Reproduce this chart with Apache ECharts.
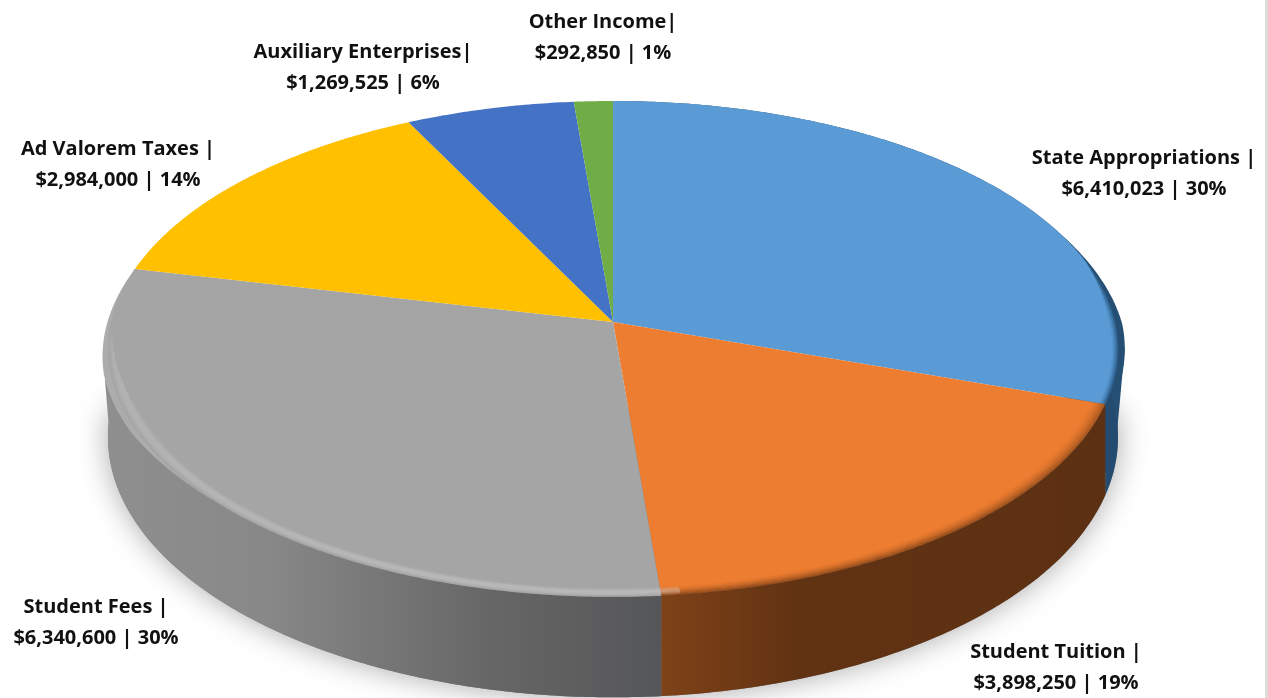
<!DOCTYPE html>
<html><head><meta charset="utf-8">
<style>html,body{margin:0;padding:0;background:#fff;overflow:hidden}#c{width:1268px;height:698px}</style>
<script src="https://cdn.jsdelivr.net/npm/echarts@6/dist/echarts.min.js"></script>
</head><body><div id="c"></div>
<script>
// ---- data ----
var categories = ['State Appropriations |','Student Tuition |','Student Fees |','Ad Valorem Taxes |','Auxiliary Enterprises|','Other Income|'];
var values = [6410023,3898250,6340600,2984000,1269525,292850];
var amountLabels = ['$6,410,023','$3,898,250','$6,340,600','$2,984,000','$1,269,525','$292,850'];
var percentLabels = ['30%','19%','30%','14%','6%','1%'];

// ---- layout and style ----
var topColors = ['#5b9bd5','#ed7d31','#a5a5a5','#ffc000','#4472c4','#70ad47'];
var sideStops = [
  [[0,'#264f74'],[1,'#234a6e']],
  [[0,'#7f4218'],[0.3,'#623313'],[1,'#5c3012']],
  [[0,'#8f8f8f'],[0.3,'#888888'],[0.7,'#666666'],[1,'#555658']]
];
var sideRanges = [[1080,1125],[660,1108],[100,662]];
var labelPos = [[1144,174],[1056,668],[96,623],[118,165],[363,68],[603,38]];
var PX = 613, TOPY = 322, BOTY = 409, RX = 502, RY_TOP = 245, RY_BOT = 257, K = 0.1086, SHOULDER = 0.0135;

var total = values.reduce(function(a,b){return a+b;},0);
var DEG = Math.PI/180;
function startAngle(i){var s=0;for(var j=0;j<i;j++)s+=values[j];return s/total*Math.PI*2;}
function project(a,scale,cy,ry){
  var d=1+K*Math.cos(a)*scale;
  return [PX+RX*scale*Math.sin(a)/d, cy-ry*scale*Math.cos(a)/d];
}
function arc(a0,a1,scale,cy,ry){
  var n=Math.max(4,Math.ceil((a1-a0)/0.01)),p=[];
  for(var i=0;i<=n;i++)p.push(project(a0+(a1-a0)*i/n,scale,cy,ry));
  return p;
}
function outward(a,f){var q=project(a,1,TOPY,RY_TOP);return [PX+(q[0]-PX)*(1+f),q[1]];}
// thin crescent outside the top face, between its rim and the widest part of the disc
function lip(a0,a1,keepEnd){
  var n=Math.ceil((a1-a0)/0.01),p=[];
  for(var i=0;i<=n;i++){
    var a=a0+(a1-a0)*i/n;
    var f=keepEnd==='right'?SHOULDER*Math.min(1,(a-a0)/(0.55*(a1-a0))):SHOULDER*Math.min(1,(a1-a)/(0.45*(a1-a0)))*Math.min(1,(a-a0)/(0.3*(a1-a0)));
    p.push(outward(a,f));
  }
  return p.concat(arc(a0,a1,0.99,TOPY,RY_TOP).reverse());
}
function filler(aS,aB){
  return [outward(aS,SHOULDER),project(aB,1,BOTY,RY_BOT),project(aB,0.9,BOTY,RY_BOT),project(aS,0.9,TOPY,RY_TOP)];
}
function renderBase(params,api){
  return {type:'polygon',shape:{points:arc(90*DEG,270*DEG,1,BOTY,RY_BOT)},
    style:{fill:'#777',shadowBlur:30,shadowColor:'rgba(0,0,0,0.34)'},silent:true};
}
function renderSide(params,api){
  var i=params.dataIndex; if(i>2) return null;
  var a0=startAngle(i),a1=startAngle(i+1);
  var pts=arc(a0,a1,1,TOPY,RY_TOP).concat(arc(a0,a1,1,BOTY,RY_BOT).reverse());
  var xr=sideRanges[i];
  var stops=sideStops[i].map(function(s){return {offset:s[0],color:s[1]};});
  var fill=new echarts.graphic.LinearGradient(xr[0],0,xr[1],0,stops,true);
  var kids=[];
  if(i===0){
    kids.push({type:'polygon',shape:{points:lip(68*DEG,a1,'right')},silent:true,style:{fill:'#264f74'}});
    kids.push({type:'polygon',shape:{points:filler(96*DEG,104*DEG)},silent:true,style:{fill:'#264f74'}});
  }
  if(i===2){
    kids.push({type:'polygon',shape:{points:filler(257*DEG,256*DEG)},silent:true,style:{fill:'#8f8f8f'}});
  }
  kids.push({type:'polygon',shape:{points:pts},silent:true,style:{fill:fill}});
  if(i===2){
    kids.push({type:'polygon',shape:{points:lip(228*DEG,a1,'left')},silent:true,style:{fill:'#acacac'}});
  }
  return {type:'group',children:kids};
}
// soft band along the rim; taper lets inner lines start later so that the band thins out
function rimBand(a0,a1,color,from,to,alphaFn,taper0,taper1,width){
  var kids=[],N=12;
  for(var j=0;j<N;j++){
    var t=j/(N-1),s=from+(to-from)*t;
    var b0=a0+(taper0||0)*t,b1=a1-(taper1||0)*t;
    kids.push({type:'polyline',shape:{points:arc(b0,b1,s,TOPY,RY_TOP)},silent:true,
      style:{fill:null,stroke:color,lineWidth:width||1.4,opacity:alphaFn(t)}});
  }
  return kids;
}
function renderTop(params,api){
  var i=params.dataIndex,a0=startAngle(i),a1=startAngle(i+1);
  var pts=[project(0,0,TOPY,RY_TOP)].concat(arc(a0,a1,1,TOPY,RY_TOP));
  var kids=[{type:'polygon',shape:{points:pts},silent:true,style:{fill:topColors[i]}}];
  var soft=function(t){return 0.55*(1-t)*(1-t);};
  if(i===0){ kids=kids.concat(rimBand(76*DEG,a1,'#24527a',1,0.986,soft,15*DEG,0)); }
  if(i===1){ kids=kids.concat(rimBand(a0,a1,'#5e3112',1,0.968,soft)); }
  if(i===2){
    var glow=function(t){return 0.18*Math.sin(Math.PI*t);};
    kids=kids.concat(rimBand(a0-2*DEG,272*DEG,'#d8d8d8',0.998,0.972,glow,0,25*DEG,2));
  }
  return {type:'group',children:kids};
}
function renderLabel(params,api){
  var i=params.dataIndex;
  return {type:'text',silent:true,style:{
    text:categories[i]+'\n'+amountLabels[i]+' | '+percentLabels[i],
    x:labelPos[i][0],y:labelPos[i][1],align:'center',verticalAlign:'middle',
    fill:'#111',font:'700 20px "Open Sans"',lineHeight:30.5}};
}
var seriesData = values.map(function(v,i){return {name:categories[i],value:[i,v]};});
var chart = echarts.init(document.getElementById('c'),null,{renderer:'canvas'});
chart.setOption({
  animation:false,backgroundColor:'#ffffff',
  graphic:[{type:'rect',shape:{x:1265,y:0,width:3,height:698},style:{fill:'#dddddd'},silent:true}],
  series:[
    {type:'custom',coordinateSystem:'none',z:1,renderItem:function(p,a){return p.dataIndex===0?renderBase(p,a):null;},data:seriesData,silent:true},
    {type:'custom',coordinateSystem:'none',z:2,renderItem:renderSide,data:seriesData,silent:true},
    {type:'custom',coordinateSystem:'none',z:3,renderItem:renderTop,data:seriesData,silent:true},
    {type:'custom',coordinateSystem:'none',z:4,renderItem:renderLabel,data:seriesData,silent:true}
  ]
});
</script></body></html>
